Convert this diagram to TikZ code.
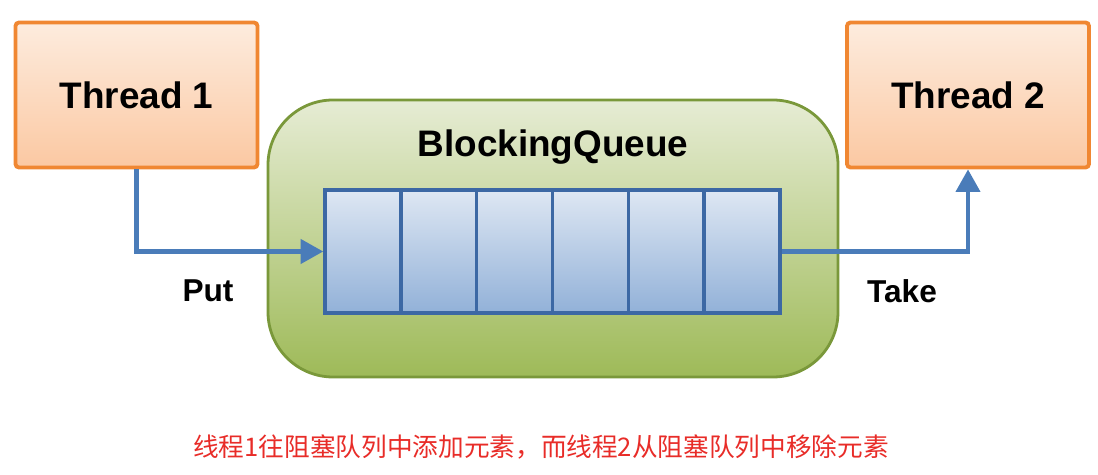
\documentclass[tikz,border=0pt]{standalone}
\usepackage{fontspec}
\setmainfont{Liberation Sans}
\newfontfamily\cjk{Noto Sans CJK SC}
\usepackage{tikz}
\usetikzlibrary{arrows.meta,positioning,calc}
\usepackage{xcolor}

\definecolor{thrdedge}{RGB}{240,135,50}
\definecolor{thrdtop}{RGB}{253,236,222}
\definecolor{thrdbot}{RGB}{251,200,162}
\definecolor{qedge}{RGB}{122,152,58}
\definecolor{qtop}{RGB}{230,236,212}
\definecolor{qbot}{RGB}{158,186,88}
\definecolor{celledge}{RGB}{60,104,164}
\definecolor{celltop}{RGB}{222,231,243}
\definecolor{cellbot}{RGB}{146,177,216}
\definecolor{flow}{RGB}{74,124,185}
\definecolor{capred}{RGB}{232,44,40}

\begin{document}
\begin{tikzpicture}[
    thread/.style={draw=thrdedge, line width=2.2pt, top color=thrdtop, bottom color=thrdbot, rounded corners=2pt, minimum width=4.84cm, minimum height=2.9cm, font=\fontsize{21}{25}\selectfont\bfseries},
    cell/.style={draw=celledge, line width=2pt, top color=celltop, bottom color=cellbot, minimum width=1.517cm, minimum height=2.46cm, inner sep=0pt},
    flowline/.style={draw=flow, line width=2.3pt, -{Triangle[length=0.45cm,width=0.48cm]}},
    tag/.style={font=\fontsize{18}{22}\selectfont\bfseries}
]
            \useasboundingbox (0,0) rectangle (21.96,9.5);
            \node[thread] (t1) at (2.73,7.6) {Thread 1};
            \node[thread] (t2) at (19.36,7.6) {Thread 2};
            \node[draw=qedge, line width=1.6pt, top color=qtop, bottom color=qbot, rounded corners=1.3cm, minimum width=11.4cm, minimum height=5.54cm] (bq) at (11.06,4.73) {};
            \node[font=\fontsize{21}{25}\selectfont\bfseries] (title) at (11.06,6.56) {BlockingQueue};
            \foreach \i in {1,...,6}
                \node[cell] (c\i) at ({7.258+(\i-1)*1.517},4.47) {};
            \draw[flowline] (t1.south) |- (c1.west);
            \draw[flowline] (c6.east) -| (t2.south);
            \node[tag] (put) at (4.16,3.68) {Put};
            \node[tag] (take) at (18.04,3.68) {Take};
            \node[text=capred, font=\cjk\fontsize{14.6}{18}\selectfont] (cap) at (10.82,0.56) {线程1往阻塞队列中添加元素，而线程2从阻塞队列中移除元素};
        \end{tikzpicture}
\end{document}
